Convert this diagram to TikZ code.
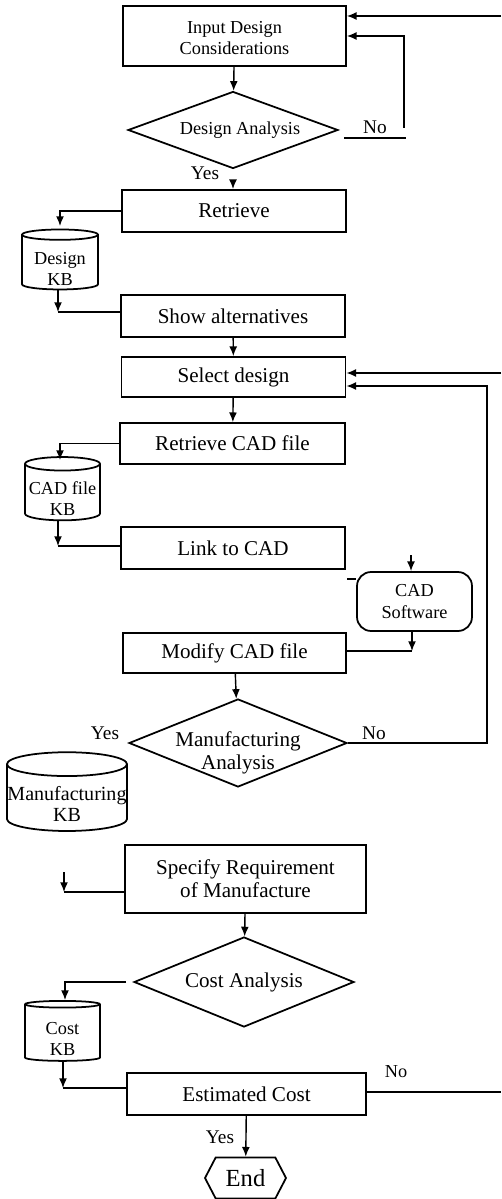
\documentclass[tikz,border=0pt]{standalone}
\usepackage{fontspec}
\setmainfont{Liberation Serif}
\usetikzlibrary{shapes.geometric,shapes.symbols,arrows.meta}
\tikzset{>={Latex[length=5.5pt,width=4.5pt]}}
\newcommand{\smallsz}{\fontsize{10.4}{12}\selectfont}
\newcommand{\bigsz}{\fontsize{12}{13}\selectfont}
% text set a little below the middle of its shape
\newcommand{\lowtext}[2]{\raisebox{-#1}[\height][\depth]{\begin{tabular}{@{}c@{}}#2\end{tabular}}}
\tikzset{
  procbox/.style={draw,line width=1pt,rectangle,minimum width=4.48cm,minimum height=0.84cm,inner sep=0pt,align=center,font=\bigsz},
  decbox/.style={draw,line width=1pt,diamond,inner sep=0pt,align=center,font=\bigsz},
  kbase/.style={draw,line width=1pt,cylinder,shape border rotate=90,aspect=0.2,inner sep=0pt,align=center,font=\smallsz},
  flow/.style={line width=0.8pt},
  lbl/.style={inner sep=0pt,font=\fontsize{11}{12}\selectfont}
}

\begin{document}
\begin{tikzpicture}[x=0.02cm,y=-0.02cm]
\useasboundingbox (0,0) rectangle (501,1199);
% main column
\node[procbox,minimum width=4.46cm,minimum height=1.2cm,font=\smallsz] (input) at (234.5,36) {\lowtext{2.2pt}{Input Design\\Considerations}};
\node[decbox,aspect=2.73,minimum width=4.2cm,minimum height=1.54cm,font=\smallsz] (da) at (233,130) {\hspace*{8pt}Design Analysis};
\node[procbox] (retrieve) at (234,211) {Retrieve};
\node[procbox] (show) at (233,316) {Show alternatives};
\node[procbox,minimum height=0.8cm] (select) at (233.5,377) {Select design};
\node[procbox,minimum width=4.5cm,minimum height=0.82cm] (rcad) at (232.5,443.5) {Retrieve CAD file};
\node[procbox] (link) at (233,548) {Link to CAD};
\node[draw,line width=1pt,rounded corners=8pt,minimum width=2.3cm,minimum height=1.18cm,inner sep=0pt,align=center,font=\smallsz] (cadsw) at (414.5,601.5) {CAD\\Software};
\node[procbox,minimum width=4.46cm,minimum height=0.8cm] (modify) at (234.5,653) {Modify CAD file};
\node[decbox,aspect=2.48,inner sep=-2pt,minimum width=4.36cm,minimum height=1.76cm] (ma) at (238,743) {\lowtext{6pt}{Manufacturing\\Analysis}};
\node[procbox,minimum width=4.82cm,minimum height=1.36cm] (spec) at (245.5,879) {Specify Requirement\\of Manufacture};
\node[decbox,aspect=2.44,minimum width=4.4cm,minimum height=1.8cm] (ca) at (244,982) {Cost Analysis};
\node[procbox,minimum width=4.78cm] (est) at (246.5,1094) {Estimated Cost};
\node[draw,line width=1pt,signal,signal to=west and east,signal pointer angle=125,minimum width=1.62cm,minimum height=0.82cm,inner sep=0pt,font=\fontsize{14}{16}\selectfont] (end) at (245.5,1178) {End};

% knowledge bases
\node[kbase,minimum width=1.52cm,minimum height=1.2cm] (dkb) at (60,262.5) {\lowtext{4.5pt}{Design\\KB}};
\node[kbase,minimum width=1.5cm,minimum height=1.2cm] (cfkb) at (62.5,492.5) {\lowtext{4.5pt}{CAD file\\KB}};
\node[kbase,minimum width=2.4cm,minimum height=1.2cm,font=\fontsize{11.4}{12}\selectfont] (mkb) at (67,798) {\lowtext{5pt}{Manufacturing\\KB}};
\node[kbase,minimum width=1.5cm,minimum height=1.2cm] (ckb) at (62.5,1033) {\lowtext{4.5pt}{Cost\\KB}};

% loose ends
\coordinate (fbtop) at (501,16);
\coordinate (danoa) at (344,138);
\coordinate (danob) at (406,138);
\coordinate (danoc) at (404,128);
\coordinate (dayes) at (233,180);
\coordinate (dkbin) at (60,226);
\coordinate (dkbout) at (58,312);
\coordinate (fbsel) at (501,373);
\coordinate (fbma) at (487,743);
\coordinate (cfkbin) at (60,460);
\coordinate (cfkbout) at (58,546);
\coordinate (cadswin) at (411,555);
\coordinate (linkstub) at (347,579);
\coordinate (cadswout) at (412,651);
\coordinate (specarr) at (64,872);
\coordinate (specin) at (64,892);
\coordinate (caleft) at (126,982);
\coordinate (ckbin) at (65,1000);
\coordinate (ckbout) at (63,1088);
\coordinate (estno) at (501,1092);

% connectors
\draw[flow,->] (fbtop) -- (fbtop -| input.east);
\draw[flow] (danoa) -- (danob) node[lbl,midway,above=2pt] (dano) {No};
\draw[flow,->] (danoc) |- (input.east);
\draw[flow,->] (input) -- (da);
\node[lbl] (dayeslbl) at (205,173) {Yes};
\draw[flow,->] (dayes) -- (dayes |- retrieve.north);
\draw[flow,->] (retrieve.west) -| (dkbin);
\draw[flow,->] (dkbout |- dkb.south) -- (dkbout);
\draw[flow] (dkbout) -- (dkbout -| show.west);
\draw[flow,->] (show) -- (select);
\draw[flow,->] (fbsel) -- (fbsel -| select.east);
\draw[flow,->] (ma.east) -- (fbma) |- ([yshift=-0.18cm]select.east);
\node[lbl] (manolbl) at (374,733) {No};
\draw[flow,->] (select) -- (rcad);
\draw[flow,->] (rcad.west) -| (cfkbin);
\draw[flow,->] (cfkbout |- cfkb.south) -- (cfkbout);
\draw[flow] (cfkbout) -- (cfkbout -| link.west);
\draw[flow,->] (cadswin) -- (cadswin |- cadsw.north);
\draw[flow] (linkstub) -- (linkstub -| cadsw.west);
\draw[flow,->] (cadswout |- cadsw.south) -- (cadswout);
\draw[flow] (cadswout -| modify.east) -- (cadswout);
\draw[flow,->] (modify) -- (ma);
\node[lbl] (mayeslbl) at (105,733) {Yes};
\draw[flow,->] (specarr) -- (specin);
\draw[flow] (specin) -- (specin -| spec.west);
\draw[flow,->] (spec) -- (ca);
\draw[flow,->] (caleft) -| (ckbin);
\draw[flow,->] (ckbout |- ckb.south) -- (ckbout);
\draw[flow] (ckbout) -- (ckbout -| est.west);
\draw[flow] (estno -| est.east) -- (estno);
\node[lbl,font=\smallsz] (estnolbl) at (396,1072) {No};
\draw[flow,->] (est) -- (end);
\node[lbl] (estyeslbl) at (220,1137) {Yes};
\end{tikzpicture}
\end{document}
